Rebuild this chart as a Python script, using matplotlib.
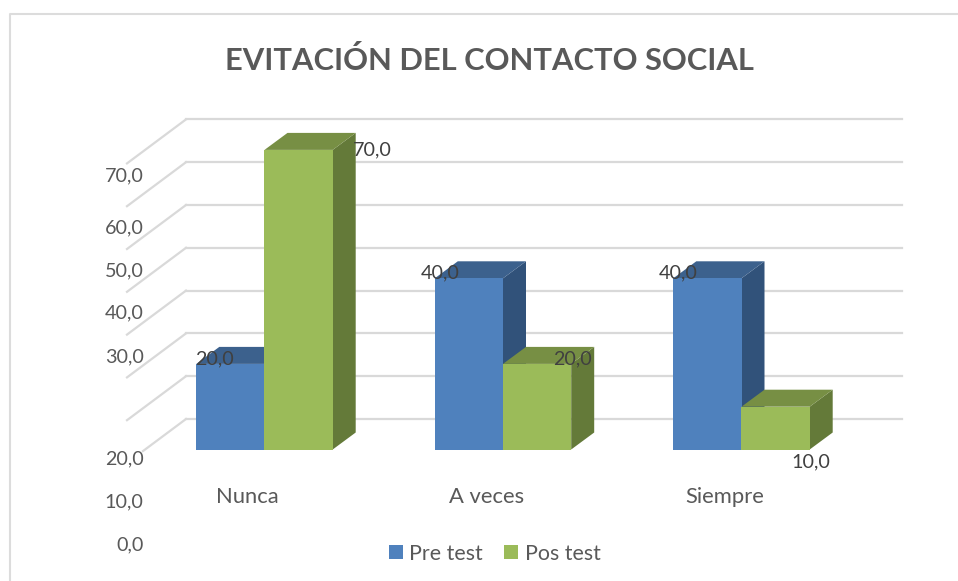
import matplotlib
matplotlib.use("Agg")
import matplotlib.pyplot as plt
from matplotlib.patches import Polygon, Rectangle

categories = ["Nunca", "A veces", "Siempre"]
pre_test = [20.0, 40.0, 40.0]
pos_test = [70.0, 20.0, 10.0]
y_ticks = [0, 10, 20, 30, 40, 50, 60, 70]
# the axis labels are not evenly spaced in the original, pixel row of each
y_label_rows = [543, 500.7, 457, 355, 311.7, 269, 226.7, 174]

W, H = 958, 581
CAT_PX = 238.5    # pixels between categories
Y_PX = 4.28       # pixels per unit
X0_PX, Y0_PX = 264.5, 449.5  # pixel of first category / value 0 on bar front

BAR_W = 68.2 / CAT_PX
DX = 23 / CAT_PX
DY = 17 / Y_PX
WALL_DX = 59 / CAT_PX
WALL_DY = 44 / Y_PX

FONT = ["Lato", "DejaVu Sans"]
GRID = "#d9d9d9"
TXT = "#595959"


def fmt(v):
    return "{:.1f}".format(v).replace(".", ",")


def box(ax, x, v, front, top, side):
    w = BAR_W
    ax.add_patch(Polygon([(x + w, 0), (x + w + DX, DY), (x + w + DX, v + DY), (x + w, v)], fc=side, ec="none", zorder=3))
    ax.add_patch(Polygon([(x, v), (x + DX, v + DY), (x + w + DX, v + DY), (x + w, v)], fc=top, ec="none", zorder=3))
    ax.add_patch(Rectangle((x, 0), w, v, fc=front, ec="none", zorder=4))


fig = plt.figure(figsize=(W / 100, H / 100), dpi=100)
ax = fig.add_axes([0, 0, 1, 1])
ax.set_xlim(-X0_PX / CAT_PX, (W - X0_PX) / CAT_PX)
ax.set_ylim((Y0_PX - H) / Y_PX, Y0_PX / Y_PX)
ax.axis("off")

fx = lambda p: (p - X0_PX) / CAT_PX
fy = lambda p: (Y0_PX - p) / Y_PX

# outer frame of the chart, cropped at right and bottom
ax.plot([fx(10), fx(10), fx(958)], [fy(581), fy(14), fy(14)], color="#dcdcdc", lw=1.5)

# back wall grid and the side wall lines
wall_x = fx(186)
wall_right = fx(902)
base = (Y0_PX - 419) / Y_PX
for t in y_ticks:
    ax.plot([wall_x, wall_right], [base + t, base + t], color=GRID, lw=1.6, zorder=1)
    k = 0.73 if t == 0 else 1  # lowest one stops at the label
    ax.plot([wall_x, wall_x - WALL_DX * k], [base + t, base + t - WALL_DY * k], color=GRID, lw=1.6, zorder=1)

for t, row in zip(y_ticks, y_label_rows):
    ax.text(fx(143.5), fy(row), fmt(t), ha="right", va="center_baseline", fontsize=14.2, color=TXT, family=FONT)

for i, cat in enumerate(categories):
    box(ax, i - BAR_W, pre_test[i], "#4f81bd", "#3c618d", "#31527a")
    box(ax, i, pos_test[i], "#9bbb59", "#778f44", "#647a39")
    ax.text(i - 0.071, -11.0, cat, ha="center", va="center", fontsize=15.8, color=TXT, family=FONT)

# data labels sit in odd places, as in the original
pre_off = [(-16, 7), (-29, 6.5), (-29, 6.5)]
pos_off = [(40, 1.5), (1, 7), (1, -54)]
for i in range(3):
    ax.annotate(fmt(pre_test[i]), (i - BAR_W / 2, pre_test[i]), xytext=pre_off[i], textcoords="offset pixels",
                ha="center", va="center_baseline", fontsize=14.2, color="#404040", family=FONT, zorder=6)
    ax.annotate(fmt(pos_test[i]), (i + BAR_W, pos_test[i]), xytext=pos_off[i], textcoords="offset pixels",
                ha="center", va="center_baseline", fontsize=14.2, color="#404040", family=FONT, zorder=6)

# legend
ax.add_patch(Rectangle((fx(389), fy(559)), 14 / CAT_PX, 14 / Y_PX, fc="#4f81bd", ec="none"))
ax.add_patch(Rectangle((fx(504), fy(559)), 14 / CAT_PX, 14 / Y_PX, fc="#9bbb59", ec="none"))
ax.text(fx(409), fy(554), "Pre test", ha="left", va="center", fontsize=15.4, color=TXT, family=FONT)
ax.text(fx(525), fy(554), "Pos test", ha="left", va="center", fontsize=15.4, color=TXT, family=FONT)

ax.text(fx(489.5), fy(61), "EVITACIÓN DEL CONTACTO SOCIAL", ha="center", va="center", fontsize=22.2,
        fontweight="bold", color=TXT, family=FONT)

fig.savefig("out.png", dpi=100)
